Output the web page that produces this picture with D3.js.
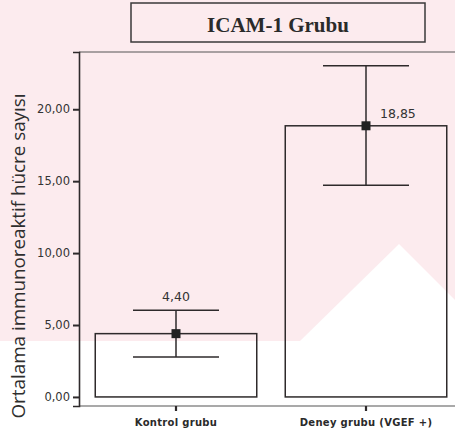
<!DOCTYPE html>
<html>
<head>
<meta charset="utf-8">
<script src="https://cdn.jsdelivr.net/npm/d3@7"></script>
<style>
  html, body { margin: 0; padding: 0; background: #ffffff; }
  svg { display: block; }
</style>
</head>
<body>
<svg id="chart" width="455" height="436"></svg>
<script>
// ---- data ----
const categories = ["Kontrol grubu", "Deney grubu (VGEF +)"];
const means      = [4.40, 18.85];
const lowerCI    = [2.78, 14.72];
const upperCI    = [6.03, 23.02];
const meanLabels = ["4,40", "18,85"];
const yTicks     = [0, 5, 10, 15, 20];
const yAxisRange = [-0.63, 23.98];
const titleText  = "ICAM-1 Grubu";
const yTitle     = "Ortalama immunoreaktif hücre sayısı";

// ---- layout ----
const W = 455, H = 436;
const mLeft = 79, mRight = 455, mTop = 52, mBottom = 406;
const ink = "#2e2a2b";

const svg = d3.select("#chart");

// faint background watermark
const bg = svg.append("g");
bg.append("rect").attr("x", 0).attr("y", 0).attr("width", W).attr("height", 341).attr("fill", "#fcebee");
bg.append("polygon").attr("points", "300,341 399,244 455,300 455,341").attr("fill", "#ffffff");

const y = d3.scaleLinear().domain(yAxisRange).range([mBottom, mTop]);
const x = d3.scaleBand().domain(categories).range([81, 461]).paddingInner(0.15).paddingOuter(0.075);

// frame lines
svg.append("line").attr("x1", mLeft).attr("x2", mRight).attr("y1", mTop).attr("y2", mTop)
  .attr("stroke", "#555").attr("stroke-width", 1);
svg.append("line").attr("x1", mLeft).attr("x2", mRight).attr("y1", mBottom).attr("y2", mBottom)
  .attr("stroke", "#555").attr("stroke-width", 1.2);

// y axis
const fmt = v => d3.format(".2f")(v).replace(".", ",");
const yAxis = d3.axisLeft(y).tickValues(yTicks).tickFormat(fmt).tickSize(6).tickPadding(3);
const gy = svg.append("g").attr("transform", `translate(${mLeft},0)`).call(yAxis);
gy.select(".domain").attr("stroke", ink).attr("stroke-width", 1.6);
gy.selectAll(".tick line").attr("stroke", ink).attr("stroke-width", 2);
gy.selectAll(".tick text").attr("font-family", "DejaVu Sans").attr("font-size", 11.5).attr("fill", "#333");

// x axis
const xAxis = d3.axisBottom(x).tickSize(5).tickPadding(8);
const gx = svg.append("g").attr("transform", `translate(0,${mBottom})`).call(xAxis);
gx.select(".domain").remove();
gx.selectAll(".tick line").attr("stroke", ink).attr("stroke-width", 2.2);
gx.selectAll(".tick text").attr("font-family", "DejaVu Sans").attr("font-size", 10)
  .attr("font-weight", "bold").attr("fill", "#2a2a2a").attr("letter-spacing", 0.3);

// bars
svg.append("g").selectAll("rect").data(categories).join("rect")
  .attr("x", d => x(d))
  .attr("width", x.bandwidth())
  .attr("y", (d, i) => y(means[i]))
  .attr("height", (d, i) => y(0) - y(means[i]))
  .attr("fill", "none").attr("stroke", ink).attr("stroke-width", 1.5);

// error bars
const capHalf = 43;
const eg = svg.append("g");
categories.forEach((c, i) => {
  const cx = x(c) + x.bandwidth() / 2;
  eg.append("line").attr("x1", cx).attr("x2", cx).attr("y1", y(lowerCI[i])).attr("y2", y(upperCI[i]))
    .attr("stroke", ink).attr("stroke-width", 1.5);
  [lowerCI[i], upperCI[i]].forEach(v => {
    eg.append("line").attr("x1", cx - capHalf).attr("x2", cx + capHalf).attr("y1", y(v)).attr("y2", y(v))
      .attr("stroke", ink).attr("stroke-width", 1.5);
  });
  eg.append("rect").attr("x", cx - 4.5).attr("y", y(means[i]) - 4.5).attr("width", 9).attr("height", 9)
    .attr("fill", "#222");
});

// mean labels
svg.append("text").attr("x", x(categories[0]) + x.bandwidth() / 2).attr("y", y(upperCI[0]) - 9)
  .attr("text-anchor", "middle").attr("font-family", "DejaVu Sans").attr("font-size", 12.5)
  .attr("fill", "#333").text(meanLabels[0]);
svg.append("text").attr("x", x(categories[1]) + x.bandwidth() / 2 + 14).attr("y", y(means[1]) - 8)
  .attr("text-anchor", "start").attr("font-family", "DejaVu Sans").attr("font-size", 12.5)
  .attr("fill", "#333").text(meanLabels[1]);

// title box
svg.append("rect").attr("x", 131).attr("y", 3).attr("width", 294).attr("height", 39)
  .attr("fill", "none").attr("stroke", "#3a3a3a").attr("stroke-width", 1.5);
svg.append("text").attr("x", 278).attr("y", 32).attr("text-anchor", "middle")
  .attr("font-family", "Liberation Serif").attr("font-weight", "bold").attr("font-size", 21)
  .attr("fill", "#2a2a2a").text(titleText);

// y title
svg.append("text").attr("transform", "translate(25,256) rotate(-90)")
  .attr("text-anchor", "middle").attr("font-family", "Open Sans").attr("font-size", 18.5)
  .attr("fill", "#2e2e2e").attr("textLength", 325).attr("lengthAdjust", "spacingAndGlyphs")
  .text(yTitle);
</script>
</body>
</html>
